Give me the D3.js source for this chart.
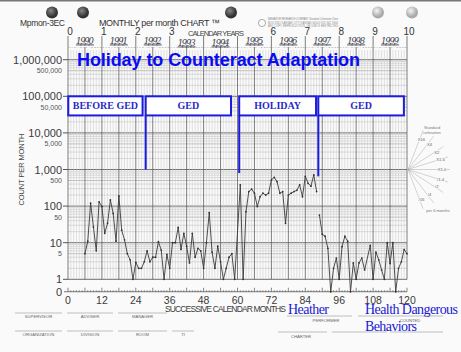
<!DOCTYPE html>
<html>
<head>
<meta charset="utf-8">
<script src="https://cdn.jsdelivr.net/npm/d3@7"></script>
<style>
  body { margin: 0; background: #fafafa; }
  svg { display: block; font-family: "Liberation Sans", Arial, sans-serif; }
</style>
</head>
<body>
<div id="chart"></div>
<script>
// Chart size
const width = 461;
const height = 352;

// Data: month number and count per month (null = break in the line)
const months = [6, 7, 8, 9, 10, 11, 12, 13, 14, 15, 16, 17, 18, 19, 20, 21, 22, 23, 24, 25,
  26, 27, 28, 29, 30, 31, 32, 33, 34, 35, 36, 37, 38, 39, 40, 41, 42, 43, 44, 45,
  46, 47, 48, 49, 50, 51, 52, 53, 54, 55, 56, 57, 58, 59, 61, 62, 63, 64, 65, 66,
  67, 68, 69, 70, 71, 72, 73, 74, 75, 76, 77, 78, 79, 80, 81, 82, 83, 84, 85, 86,
  87, 88, 88.5, 89, 90, 91, 92, 93, 94, 95, 96, 97, 98, 99, 100, 101, 102, 103, 104, 105,
  107, 108, 109, 110, 111, 112, 113, 114, 115, 116, 117, 118, 119, 120];
const counts = [5, 11, 120, 27, 6, 130, 98, 18, 34, 147, 63, 11, 190, 22, 12, 5, 3.4, 1, 2.9, 2,
  2, 3, 6, 3, 4, 4, 10.6, 6.3, 1, 4.8, 2, 10, 10, 26, 6.6, 18, 8, 2.8, 18, 4,
  7, 6, 2, 10, 66, 5.5, 2, 8, 3, 1, 2, 4, 5, 1, 380, 1, 70, 250, 290, 225,
  97, 180, 225, 200, 225, 520, 610, 465, 225, 250, 34, 200, 225, 250, 270, 380, 180, 650, 420, 350,
  710, 250, null, 57, 17, 15, 7, 0, 2, 3.8, 1, 7.8, 15, 11, 0, 2.8, 1, 2.8, 3.8, 1.8,
  8.5, 1, 5.5, 3.4, 1.8, 1, 10, 2.7, 10, 0, 2, 3, 6.5, 5];

// Phases (start month, end month of label box, name)
const phaseNames = ["BEFORE GED", "GED", "HOLIDAY", "GED"];
const phaseStarts = [0.1, 27.5, 60.6, 88.6];
const phaseEnds = [26.4, 57.7, 87.8, 118.9];
const phaseLineEnds = [1000, 800, 650];

// Axis labels
const yMajorTicks = [1e6, 1e5, 1e4, 1e3, 100, 10, 1];
const yMajorLabels = ["1,000,000", "100,000", "10,000", "1,000", "100", "10", "1"];
const yMinorTicks = [5e5, 5e4, 5e3, 500, 50, 5];
const yMinorLabels = ["500,000", "50,000", "5,000", "500", "50", "5"];
const xTicks = [0, 12, 24, 36, 48, 60, 72, 84, 96, 108, 120];
const yearNumbers = [0, 1, 2, 3, 6, 7, 8, 9, 10];
const calendarYears = ["1990", "1991", "1992", "1993", "1994", "1995", "1996", "1997", "1998", "1999"];
const monthLetters = ["J", "F", "M", "A", "M", "J", "J", "A", "S", "O", "N", "D"];
const celerations = [16, 4, 2, 1.4, 1, 1 / 1.4, 1 / 2, 1 / 4, 1 / 16];
const celerationLabels = ["X16", "X4", "X2", "X1.4", "X1.0", "/1.4", "/2", "/4", "/16"];

const svg = d3.select("#chart").append("svg")
    .attr("width", width)
    .attr("height", height);

// Scales
const x = d3.scaleLinear().domain([0, 120]).range([68, 407]);
const y = d3.scaleLog().domain([1, 1e6]).range([279.3, 59.7]);
const decade = y(1) - y(10);
const zeroY = y(1) + decade * 0.34;
const yPos = v => v > 0 ? y(v) : zeroY;

// Paper
svg.append("rect").attr("width", width).attr("height", height).attr("fill", "#fafafa");
svg.append("rect").attr("width", width).attr("height", 1.5).attr("fill", "#777");

// Punch holes
const defs = svg.append("defs");
const darkHole = defs.append("radialGradient").attr("id", "darkHole").attr("cx", "40%").attr("cy", "35%");
darkHole.append("stop").attr("offset", "0%").attr("stop-color", "#888");
darkHole.append("stop").attr("offset", "100%").attr("stop-color", "#333");
const lightHole = defs.append("radialGradient").attr("id", "lightHole").attr("cx", "40%").attr("cy", "35%");
lightHole.append("stop").attr("offset", "0%").attr("stop-color", "#f4f4f4");
lightHole.append("stop").attr("offset", "100%").attr("stop-color", "#aaa");
[[52, "darkHole"], [83, "darkHole"], [231, "darkHole"], [378, "lightHole"], [412, "lightHole"]].forEach(h => {
    svg.append("circle").attr("cx", h[0]).attr("cy", 12.5).attr("r", 6)
        .attr("fill", `url(#${h[1]})`);
});

// Header texts
svg.append("text").attr("x", 20).attr("y", 26).attr("font-size", 8.5).attr("fill", "#333")
    .attr("textLength", 45).text("Mpmon-3EC");
svg.append("text").attr("x", 99).attr("y", 26).attr("font-size", 9).attr("fill", "#333")
    .attr("textLength", 121).text("MONTHLY per month CHART \u2122");

// Publisher mark
svg.append("circle").attr("cx", 262).attr("cy", 23).attr("r", 3.6)
    .attr("fill", "none").attr("stroke", "#777").attr("stroke-width", 0.6);
["BEHAVIOR RESEARCH COMPANY  Standard Celeration Chart", "BOX 3351 KANSAS CITY KANSAS 66103  913 362 5900",
 "ANY COPY, REPRODUCTION, OR USE IS RESTRICTED"].forEach((t, i) => {
    svg.append("text").attr("x", 268).attr("y", 20 + i * 3.6).attr("font-size", 2.6)
        .attr("fill", "#888").attr("textLength", 70).text(t);
});

// Grid: horizontal lines
const hLines = [];
for (let d = 1; d < 1e6; d *= 10) {
    for (let k = 1; k <= 9; k++) hLines.push({ v: d * k, k: k });
}
hLines.push({ v: 1e6, k: 1 });
svg.append("g").selectAll("line").data(hLines).join("line")
    .attr("x1", x(0)).attr("x2", x(120))
    .attr("y1", d => y(d.v)).attr("y2", d => y(d.v))
    .attr("stroke", d => d.k === 1 ? "#6a6a6a" : d.k === 5 ? "#9a9a9a" : "#c4c4c4")
    .attr("stroke-width", d => d.k === 1 ? 1 : 0.6);

// Grid: vertical lines, one per month, heavy every 6 months
svg.append("g").selectAll("line").data(d3.range(0, 121)).join("line")
    .attr("x1", d => x(d)).attr("x2", d => x(d))
    .attr("y1", d => d % 12 === 0 ? 36 : d % 6 === 0 ? 47 : 50)
    .attr("y2", y(1))
    .attr("stroke", d => d % 6 === 0 ? "#6f6f6f" : "#c6c6c6")
    .attr("stroke-width", d => d % 6 === 0 ? 0.9 : 0.5);

// Month letters along the top
svg.append("g").selectAll("text").data(d3.range(0, 120)).join("text")
    .attr("x", d => x(d + 0.5)).attr("y", 48)
    .attr("text-anchor", "middle").attr("font-size", 2.3).attr("fill", "#777")
    .text(d => monthLetters[d % 12]);

// Year numbers and calendar years
svg.append("g").selectAll("text").data(yearNumbers).join("text")
    .attr("x", d => x(d * 12) + 2).attr("y", 35)
    .attr("text-anchor", "middle").attr("font-size", 10).attr("fill", "#333")
    .text(d => d);
svg.append("text").attr("x", 188).attr("y", 35.5).attr("font-size", 7.5).attr("fill", "#444")
    .attr("textLength", 56).text("CALENDAR YEARS");
svg.append("g").selectAll("text").data(calendarYears).join("text")
    .attr("x", (d, i) => x(i * 12 + 6)).attr("y", (d, i) => i === 3 || i === 4 ? 45.5 : 43.5)
    .attr("text-anchor", "middle").attr("font-size", 8.5)
    .attr("font-family", "'DejaVu Serif', serif").attr("font-style", "italic")
    .attr("fill", "#3a3a48").attr("text-decoration", "underline")
    .attr("textLength", 18).text(d => d);

// Y labels
svg.append("g").selectAll("text").data(yMajorTicks).join("text")
    .attr("x", 62).attr("y", d => y(d) + 4)
    .attr("text-anchor", "end").attr("font-size", 11).attr("fill", "#3a3a3a")
    .text((d, i) => yMajorLabels[i]);
svg.append("g").selectAll("text").data(yMinorTicks).join("text")
    .attr("x", 62).attr("y", d => y(d) + 2.5)
    .attr("text-anchor", "end").attr("font-size", 7).attr("fill", "#555")
    .text((d, i) => yMinorLabels[i]);
svg.append("g").selectAll("line").data(yMajorTicks).join("line")
    .attr("x1", 63).attr("x2", x(0)).attr("y1", d => y(d)).attr("y2", d => y(d))
    .attr("stroke", "#555").attr("stroke-width", 1);
svg.append("text").attr("x", 62).attr("y", zeroY + 4)
    .attr("text-anchor", "end").attr("font-size", 11).attr("fill", "#3a3a3a").text("0");
svg.append("text")
    .attr("transform", `translate(24,${y(1000)}) rotate(-90)`)
    .attr("text-anchor", "middle").attr("font-size", 7.5).attr("fill", "#444")
    .attr("textLength", 72).text("COUNT PER MONTH");

// Zero axis with ticks
svg.append("line").attr("x1", 64).attr("x2", x(120)).attr("y1", zeroY).attr("y2", zeroY)
    .attr("stroke", "#555").attr("stroke-width", 0.8);
svg.append("g").selectAll("line").data(d3.range(0, 121)).join("line")
    .attr("x1", d => x(d)).attr("x2", d => x(d))
    .attr("y1", zeroY).attr("y2", d => zeroY - (d % 6 === 0 ? 4 : 1.5))
    .attr("stroke", "#555").attr("stroke-width", 0.7);
svg.append("g").selectAll("text").data(xTicks).join("text")
    .attr("x", d => x(d)).attr("y", zeroY + 12)
    .attr("text-anchor", "middle").attr("font-size", 10.5).attr("fill", "#3a3a3a")
    .text(d => d);
svg.append("text").attr("x", 165).attr("y", 312).attr("font-size", 8.5).attr("fill", "#3a3a3a")
    .attr("textLength", 121).text("SUCCESSIVE CALENDAR MONTHS");

// Celeration fan
const fan = svg.append("g");
const cx = x(120) + 1, cy = y(1000);
celerations.forEach((c, i) => {
    const dx = x(6) - x(0);
    const dy = y(1) - y(c);
    const len = Math.hypot(dx, dy);
    const ux = dx / len, uy = dy / len;
    fan.append("line").attr("x1", cx).attr("y1", cy)
        .attr("x2", cx + ux * 42).attr("y2", cy - uy * 42)
        .attr("stroke", "#aaa").attr("stroke-width", 0.5);
    fan.append("text").attr("x", cx + ux * 32 + 2).attr("y", cy - uy * 32 + 1.5)
        .attr("font-size", 4.2).attr("fill", "#666").attr("text-anchor", "middle")
        .attr("paint-order", "stroke").attr("stroke", "#fafafa").attr("stroke-width", 1.5)
        .text(celerationLabels[i]);
});
fan.append("text").attr("x", 432).attr("y", 129).attr("font-size", 4).attr("fill", "#777")
    .attr("text-anchor", "middle").text("Standard");
fan.append("text").attr("x", 432).attr("y", 134).attr("font-size", 4).attr("fill", "#777")
    .attr("text-anchor", "middle").text("celeration");
fan.append("text").attr("x", 438).attr("y", 212).attr("font-size", 4).attr("fill", "#777")
    .attr("text-anchor", "middle").text("per 6 months");

// Data line
const data = months.map((m, i) => ({ month: m, count: counts[i] }));
const line = d3.line()
    .defined(d => d.count !== null)
    .x(d => x(d.month))
    .y(d => yPos(d.count));
svg.append("path").datum(data)
    .attr("d", line)
    .attr("fill", "none").attr("stroke", "#3a3a3a").attr("stroke-width", 0.9);
svg.append("g").selectAll("circle").data(data.filter(d => d.count !== null)).join("circle")
    .attr("cx", d => x(d.month)).attr("cy", d => yPos(d.count)).attr("r", 0.9)
    .attr("fill", "#333");

// Title
svg.append("text").attr("x", 77).attr("y", 65.5)
    .attr("font-size", 18).attr("font-weight", "bold").attr("fill", "#0a0af5")
    .attr("textLength", 283).text("Holiday to Counteract Adaptation");

// Phase boxes and lines
const boxTop = y(1e5), boxBottom = y(3e4);
svg.append("g").selectAll("line").data(phaseLineEnds).join("line")
    .attr("x1", (d, i) => x(phaseStarts[i + 1])).attr("x2", (d, i) => x(phaseStarts[i + 1]))
    .attr("y1", boxBottom).attr("y2", d => y(d))
    .attr("stroke", "#1c1ce0").attr("stroke-width", 2);
svg.append("g").selectAll("rect").data(phaseNames).join("rect")
    .attr("x", (d, i) => x(phaseStarts[i])).attr("y", boxTop)
    .attr("width", (d, i) => x(phaseEnds[i]) - x(phaseStarts[i]))
    .attr("height", boxBottom - boxTop)
    .attr("fill", "#fff").attr("stroke", "#1c1ce0").attr("stroke-width", 2);
svg.append("g").selectAll("text").data(phaseNames).join("text")
    .attr("x", (d, i) => x((phaseStarts[i] + phaseEnds[i]) / 2)).attr("y", (boxTop + boxBottom) / 2 + 3.5)
    .attr("text-anchor", "middle").attr("font-family", "'Liberation Serif', 'Times New Roman', serif")
    .attr("font-weight", "bold").attr("font-size", 10).attr("fill", "#2a2ac8")
    .text(d => d);

// Bottom form fields
const fieldRows = [
    { y: 313, fields: [[15, 62, "SUPERVISOR"], [67, 113, "ADVISER"], [118, 167, "MANAGER"]] },
    { y: 331, fields: [[15, 62, "ORGANIZATION"], [67, 113, "DIVISION"], [118, 167, "ROOM"], [172, 194, "TI"]] }
];
fieldRows.forEach(r => {
    r.fields.forEach(f => {
        svg.append("line").attr("x1", f[0]).attr("x2", f[1]).attr("y1", r.y).attr("y2", r.y)
            .attr("stroke", "#999").attr("stroke-width", 0.6);
        svg.append("text").attr("x", (f[0] + f[1]) / 2).attr("y", r.y + 5)
            .attr("text-anchor", "middle").attr("font-size", 4.2).attr("fill", "#666").text(f[2]);
    });
});
[[287, 352, 316], [358, 443, 316], [278, 327, 332], [332, 387, 332], [390, 443, 332]].forEach(f => {
    svg.append("line").attr("x1", f[0]).attr("x2", f[1]).attr("y1", f[2]).attr("y2", f[2])
        .attr("stroke", "#999").attr("stroke-width", 0.6);
});
[[326, 322, "PERFORMER"], [410, 322, "COUNTED"], [301, 338, "CHARTER"]].forEach(f => {
    svg.append("text").attr("x", f[0]).attr("y", f[1]).attr("text-anchor", "middle")
        .attr("font-size", 4.2).attr("fill", "#666").text(f[2]);
});

// Handwritten-style entries in blue
const serif = "'Liberation Serif', 'Times New Roman', serif";
svg.append("text").attr("x", 288).attr("y", 314).attr("font-family", serif)
    .attr("font-size", 14).attr("fill", "#1a1ad0").attr("textLength", 41).text("Heather");
svg.append("text").attr("x", 365).attr("y", 314).attr("font-family", serif)
    .attr("font-size", 14).attr("fill", "#1a1ad0").attr("textLength", 93).text("Health Dangerous");
svg.append("text").attr("x", 365).attr("y", 331).attr("font-family", serif)
    .attr("font-size", 14).attr("fill", "#1a1ad0").attr("textLength", 52).text("Behaviors");
</script>
</body>
</html>
